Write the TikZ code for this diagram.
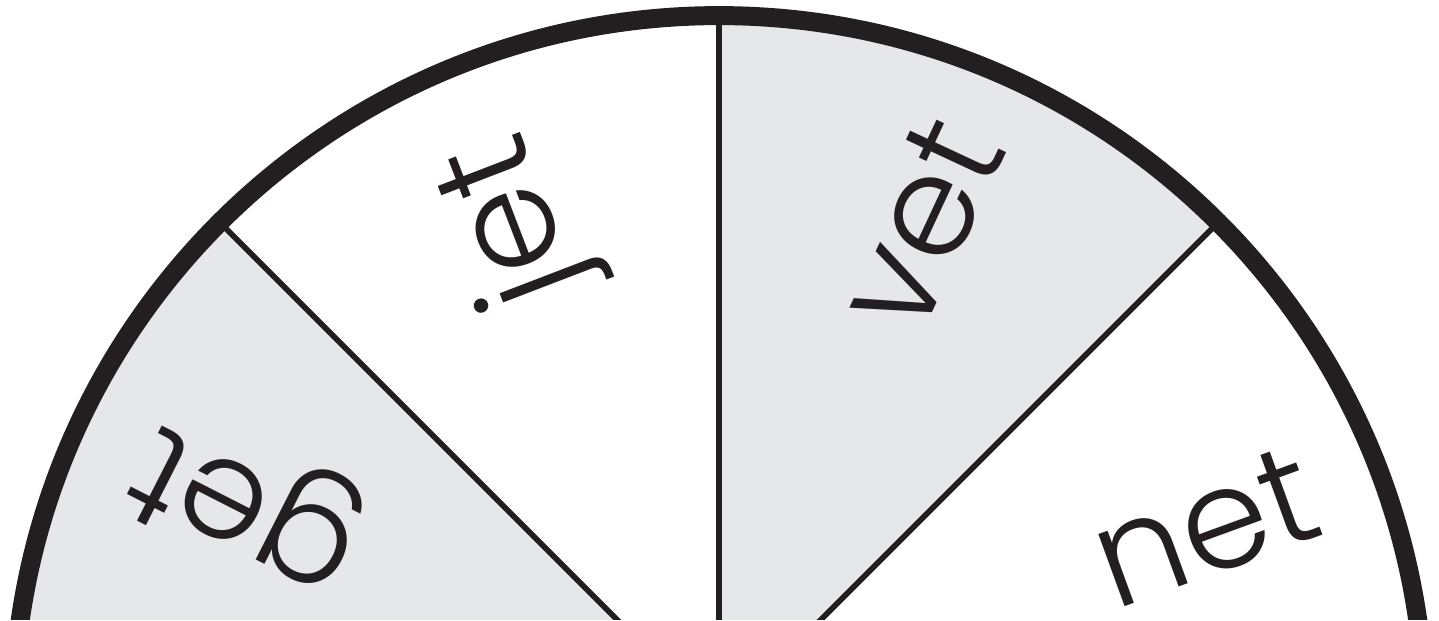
\documentclass[tikz,border=0pt]{standalone}
\usepackage{fontspec}
\setmainfont{Poppins Light}
\usepackage{tikz}
\usetikzlibrary{calc}
\usepackage{xcolor}
\definecolor{wheelgray}{HTML}{E6E7E8}
\definecolor{ink}{HTML}{231F20}

\tikzset{
  word/.style={text=ink, inner sep=0pt, font=\fontsize{40}{40}\selectfont},
  divider/.style={draw=ink, line width=1.6pt},
  rim/.style={draw=ink, line width=5.4pt}
}

\begin{document}
\begin{tikzpicture}
\useasboundingbox (-7.19,1.016) rectangle (7.20,7.216);
\clip (-7.19,1.016) rectangle (7.20,7.216);
\coordinate (c) at (0,0);
\coordinate (r0) at (0:7.06);
\coordinate (r45) at (45:7.06);
\coordinate (r90) at (90:7.06);
\coordinate (r135) at (135:7.06);
\coordinate (r180) at (180:7.06);
% shaded sectors
\fill[wheelgray] (c) -- (r45) arc (45:90:7.06) -- cycle;
\fill[wheelgray] (c) -- (r135) arc (135:180:7.06) -- cycle;
% dividers
\draw[divider] (c) -- (r45);
\draw[divider] (c) -- (r90);
\draw[divider] (c) -- (r135);
% outer ring
\draw[rim] (r0) arc (0:180:7.06);
% words
\node[word, rotate=20] (net) at (21.8:5.235) {net};
\node[word, rotate=65] (vet) at (67.9:5.361) {vet};
\node[word, rotate=111] (jet) at (112.0:5.411) {jet};
\node[word, rotate=153] (get) at (155.0:5.19) {get};
\end{tikzpicture}
\end{document}
